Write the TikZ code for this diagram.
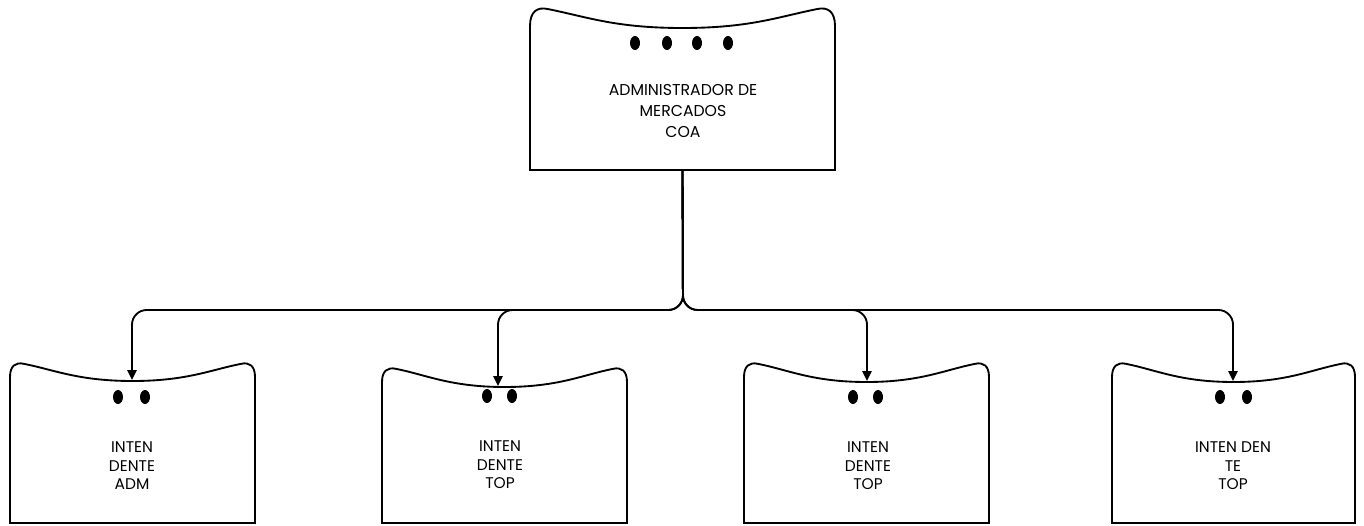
\documentclass[tikz,border=0pt]{standalone}
\usepackage{fontspec}
\setmainfont{Poppins}
\usetikzlibrary{arrows.meta}

% Card outline: #1 name, #2 left, #3 right, #4 top of the shoulders,
% #5 depth of the wave, #6 bottom, #7 shoulder size
\newcommand\drawcard[7]{%
  \pgfmathsetmacro\cL{#2}\pgfmathsetmacro\cR{#3}%
  \pgfmathsetmacro\cT{#4}\pgfmathsetmacro\cD{#4+#5}%
  \pgfmathsetmacro\cB{#6}\pgfmathsetmacro\cC{(#2+#3)/2}%
  \pgfmathsetmacro\cW{#3-#2}\pgfmathsetmacro\cc{#7}%
  \draw[cardline] (\cL,\cB) -- (\cL,{\cT+\cc})
    .. controls (\cL,{\cT+0.2*\cc}) and ({\cL+0.4*\cc},{\cT-0.08*\cc}) .. ({\cL+\cc},{\cT+0.06*\cc})
    .. controls ({\cL+3.2*\cc},{\cT+0.5*\cc}) and ({\cC-0.22*\cW},\cD) .. (\cC,\cD)
    .. controls ({\cC+0.22*\cW},\cD) and ({\cR-3.2*\cc},{\cT+0.5*\cc}) .. ({\cR-\cc},{\cT+0.06*\cc})
    .. controls ({\cR-0.4*\cc},{\cT-0.08*\cc}) and (\cR,{\cT+0.2*\cc}) .. (\cR,{\cT+\cc})
    -- (\cR,\cB) -- cycle;
  \coordinate (#1-bot) at (\cC,\cB);
}

\tikzset{
  cardline/.style={draw=black, line width=1.4pt, fill=white},
  conn/.style={draw=black, line width=1.4pt, rounded corners=11pt,
    -{Triangle[length=7.5pt,width=7pt]}},
  dot/.style={fill=black},
  lbl/.style={align=center, font=\fontsize{11.6}{13.9}\selectfont},
  toplbl/.style={align=center, font=\fontsize{11.8}{15.8}\selectfont},
}

\begin{document}
\begin{tikzpicture}[x=0.75pt,y=-0.75pt]
  \useasboundingbox (0,0) rectangle (1364,525);

  % head card
  \drawcard{head}{530}{835}{8}{20}{170}{18}
  \foreach \xx in {635,667,697,728} \fill[dot] (\xx,43) ellipse [x radius=5, y radius=7];
  \node[toplbl] (headtxt) at (683,111) {ADMINISTRADOR DE\\MERCADOS\\COA};

  % subordinate cards
  \drawcard{c1}{10}{255}{363}{18}{523}{14}
  \drawcard{c2}{382}{627}{368}{19}{523}{14}
  \drawcard{c3}{744}{989}{363}{19}{523}{14}
  \drawcard{c4}{1112}{1355}{363}{19}{523}{14}

  \foreach \xx in {118,145} \fill[dot] (\xx,397) ellipse [x radius=5, y radius=7];
  \foreach \xx in {487,512} \fill[dot] (\xx,396) ellipse [x radius=5, y radius=7];
  \foreach \xx in {853,878} \fill[dot] (\xx,397) ellipse [x radius=5, y radius=7];
  \foreach \xx in {1220,1247} \fill[dot] (\xx,397) ellipse [x radius=5, y radius=7];

  \node[lbl] (t1) at (132,466) {INTEN\\DENTE\\ADM};
  \node[lbl] (t2) at (500,465) {INTEN\\DENTE\\TOP};
  \node[lbl] (t3) at (868,466) {INTEN\\DENTE\\TOP};
  \node[lbl] (t4) at (1233,466) {INTEN DEN\\TE\\TOP};

  % arrow targets on the wavy tops
  \coordinate (in1) at (132,380);
  \coordinate (in2) at (498,386);
  \coordinate (in3) at (867,381);
  \coordinate (in4) at (1233,381);
  \coordinate (split) at (683,310);

  \foreach \k in {1,2,3,4}
    \draw[conn] (head-bot) -- (split) -| (in\k);
\end{tikzpicture}
\end{document}
